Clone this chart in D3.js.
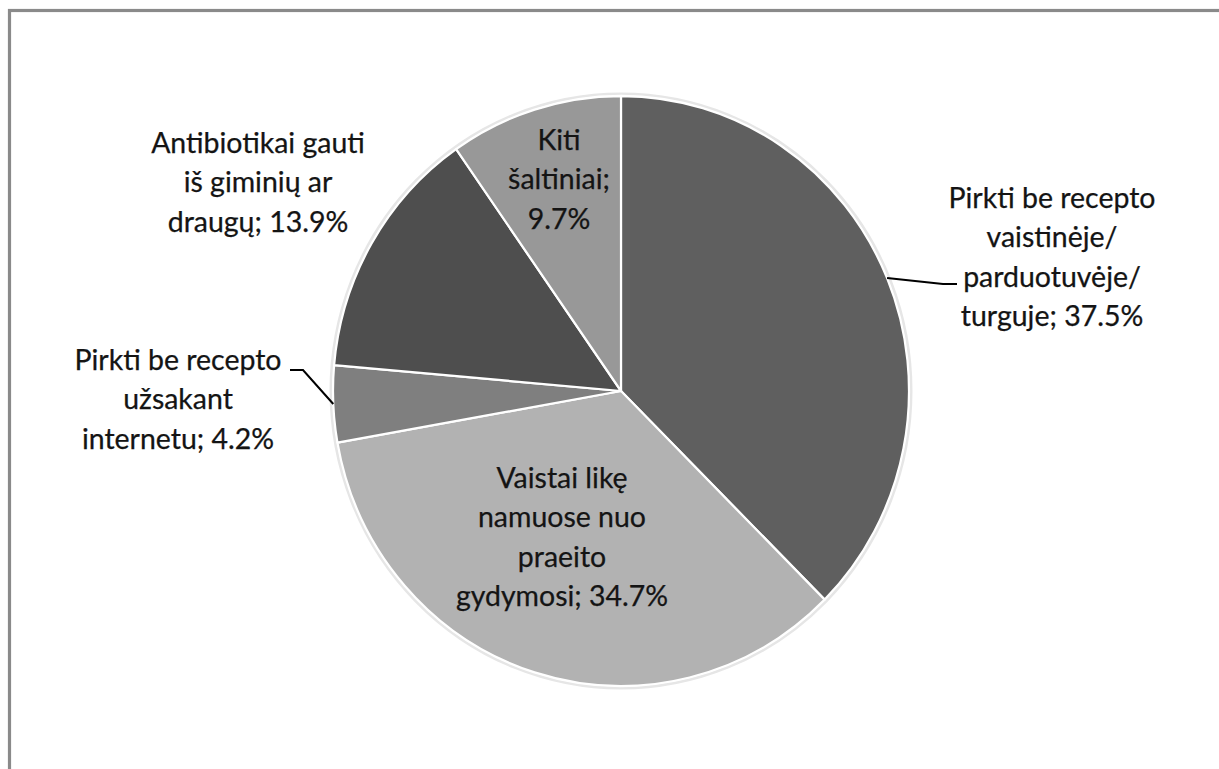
<!DOCTYPE html>
<html>
<head>
<meta charset="utf-8">
<script src="https://cdn.jsdelivr.net/npm/d3@7"></script>
<style>
  html, body { margin: 0; padding: 0; background: #fff; }
  svg { display: block; }
</style>
</head>
<body>
<svg id="chart" width="1219" height="769"></svg>
<script>
// ---- data ----
const categories = [
  "Pirkti be recepto vaistinėje/ parduotuvėje/ turguje",
  "Vaistai likę namuose nuo praeito gydymosi",
  "Pirkti be recepto užsakant internetu",
  "Antibiotikai gauti iš giminių ar draugų",
  "Kiti šaltiniai"
];
const values = [37.5, 34.7, 4.2, 13.9, 9.7];
const labelLines = [
  ["Pirkti be recepto", "vaistinėje/", "parduotuvėje/", "turguje; 37.5%"],
  ["Vaistai likę", "namuose nuo", "praeito", "gydymosi; 34.7%"],
  ["Pirkti be recepto", "užsakant", "internetu; 4.2%"],
  ["Antibiotikai gauti", "iš giminių ar", "draugų; 13.9%"],
  ["Kiti", "šaltiniai;", "9.7%"]
];
const colors = ["#5f5f5f", "#b2b2b2", "#7f7f7f", "#4e4e4e", "#989898"];

// ---- layout ----
const W = 1219, H = 769;
const cx = 621, cy = 391, rx = 288, ry = 295;
const labelPos = [ // center x, first baseline y
  [1052, 208], [562, 488], [178, 370], [258, 153], [559, 150]
];
const lineH = 39.3;
const leaders = [ // label-side points for slices with leader lines
  {i: 0, pts: [[957, 284], [943, 284]]},
  {i: 2, pts: [[290, 370], [303, 370]]}
];

const svg = d3.select("#chart");

// frame
svg.append("rect")
  .attr("x", 9.5).attr("y", 10.5)
  .attr("width", W + 20).attr("height", H + 20)
  .attr("fill", "#fff")
  .attr("stroke", "#8a8a8a").attr("stroke-width", 3.2);

const pie = d3.pie().sort(null).value(d => d)(values);
const arc = d3.arc().innerRadius(0).outerRadius(rx);

const g = svg.append("g")
  .attr("transform", `translate(${cx},${cy}) scale(1,${ry / rx})`);

// faint outer shadow ring
g.append("circle").attr("r", rx + 2).attr("fill", "none")
  .attr("stroke", "#e6e6e6").attr("stroke-width", 3);

g.selectAll("path.slice")
  .data(pie)
  .join("path")
  .attr("class", "slice")
  .attr("d", arc)
  .attr("fill", (d, i) => colors[i])
  .attr("stroke", "#fff")
  .attr("stroke-width", 2.2)
  .attr("stroke-linejoin", "round");

// font size fitted so "Pirkti be recepto" is ~207px wide
const probe = svg.append("text")
  .attr("font-family", "Lato, 'Open Sans', sans-serif")
  .attr("font-size", 100).text(labelLines[0][0]);
const wProbe = probe.node().getComputedTextLength();
probe.remove();
const fontSize = 100 * 207 / wProbe;

// leader lines
leaders.forEach(l => {
  const d = pie[l.i];
  const mid = (d.startAngle + d.endAngle) / 2;
  const ex = cx + rx * Math.sin(mid), ey = cy - ry * Math.cos(mid);
  const pts = l.pts.concat([[ex, ey]]);
  svg.append("path")
    .attr("d", d3.line()(pts))
    .attr("fill", "none").attr("stroke", "#000").attr("stroke-width", 2);
});

// labels
labelLines.forEach((lines, i) => {
  const t = svg.append("text")
    .attr("font-family", "Lato, 'Open Sans', sans-serif")
    .attr("font-size", fontSize)
    .attr("fill", "#141414")
    .attr("stroke", "#141414").attr("stroke-width", 0.25)
    .attr("text-anchor", "middle");
  lines.forEach((ln, k) => {
    t.append("tspan")
      .attr("x", labelPos[i][0])
      .attr("y", labelPos[i][1] + k * lineH)
      .text(ln);
  });
});
</script>
</body>
</html>
